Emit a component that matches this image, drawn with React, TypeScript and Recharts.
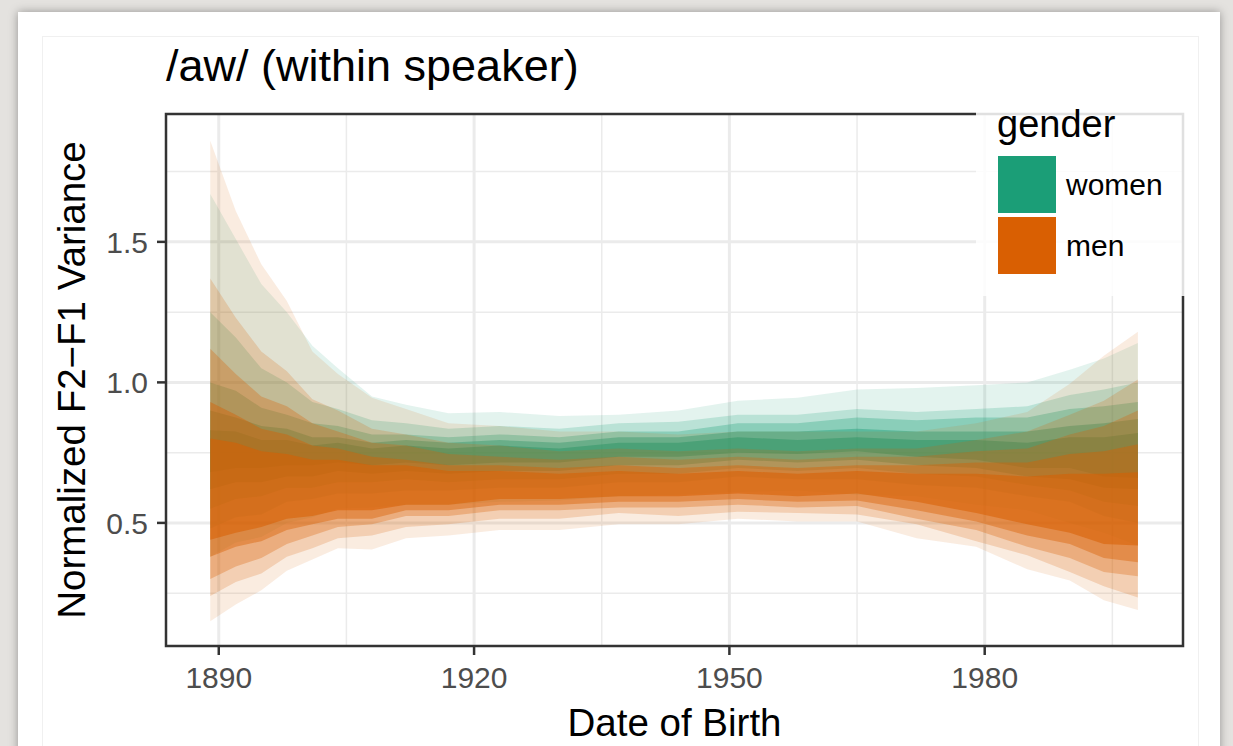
import React from "react";
import {
  Area,
  CartesianGrid,
  ComposedChart,
  ReferenceArea,
  XAxis,
  YAxis,
} from "recharts";

const FONT = "'Liberation Sans', Arial, Helvetica, sans-serif";
const WOMEN = "#1b9e77";
const MEN = "#d95f02";

const YEARS = [
  1889, 1892, 1895, 1898, 1901, 1904, 1908, 1912, 1917, 1923, 1930, 1937, 1944,
  1951, 1958, 1965, 1972, 1979, 1985, 1990, 1994, 1998,
];

const X_TICKS = [1890, 1920, 1950, 1980];
const X_MINOR = [1905, 1935, 1965, 1995];
const Y_TICKS = [0.5, 1.0, 1.5];
const Y_MINOR = [0.25, 0.75, 1.25, 1.75];

// women: outer band (1) to inner band (5)
const W1_HI = [1.67, 1.51, 1.35, 1.25, 1.13, 1.05, 0.95, 0.92, 0.89, 0.895, 0.88, 0.885, 0.9, 0.935, 0.945, 0.975, 0.98, 0.99, 1.0, 1.045, 1.085, 1.14];
const W1_LO = [0.38, 0.43, 0.45, 0.5, 0.52, 0.55, 0.555, 0.565, 0.565, 0.575, 0.58, 0.595, 0.6, 0.61, 0.615, 0.6, 0.595, 0.565, 0.545, 0.5, 0.465, 0.42];
const W2_HI = [1.25, 1.16, 1.05, 1.0, 0.93, 0.905, 0.865, 0.855, 0.835, 0.845, 0.835, 0.855, 0.86, 0.885, 0.885, 0.905, 0.895, 0.905, 0.915, 0.955, 0.975, 1.0];
const W2_LO = [0.48, 0.52, 0.53, 0.575, 0.585, 0.605, 0.605, 0.615, 0.615, 0.625, 0.625, 0.645, 0.645, 0.665, 0.655, 0.655, 0.635, 0.625, 0.595, 0.575, 0.525, 0.5];
const W3_HI = [1.0, 0.97, 0.91, 0.885, 0.855, 0.845, 0.815, 0.815, 0.805, 0.815, 0.805, 0.825, 0.825, 0.855, 0.855, 0.875, 0.865, 0.875, 0.875, 0.905, 0.915, 0.93];
const W3_LO = [0.55, 0.585, 0.595, 0.625, 0.625, 0.645, 0.645, 0.655, 0.645, 0.655, 0.655, 0.675, 0.675, 0.695, 0.685, 0.695, 0.675, 0.665, 0.635, 0.615, 0.575, 0.56];
const W4_HI = [0.9, 0.875, 0.845, 0.835, 0.805, 0.805, 0.785, 0.795, 0.785, 0.795, 0.785, 0.805, 0.805, 0.825, 0.825, 0.835, 0.825, 0.825, 0.825, 0.845, 0.855, 0.87];
const W4_LO = [0.62, 0.645, 0.645, 0.665, 0.665, 0.685, 0.675, 0.685, 0.675, 0.685, 0.685, 0.705, 0.705, 0.725, 0.715, 0.725, 0.705, 0.695, 0.665, 0.655, 0.625, 0.62];
const W5_HI = [0.83, 0.825, 0.795, 0.795, 0.775, 0.785, 0.765, 0.775, 0.765, 0.775, 0.765, 0.785, 0.785, 0.805, 0.795, 0.805, 0.795, 0.795, 0.785, 0.805, 0.805, 0.82];
const W5_LO = [0.68, 0.695, 0.695, 0.705, 0.705, 0.715, 0.705, 0.715, 0.705, 0.715, 0.715, 0.735, 0.735, 0.75, 0.745, 0.755, 0.735, 0.725, 0.695, 0.695, 0.665, 0.66];

// men: outer band (1) to inner band (5)
const M1_HI = [1.86, 1.61, 1.42, 1.29, 1.11, 1.03, 0.945, 0.905, 0.855, 0.845, 0.825, 0.825, 0.815, 0.825, 0.825, 0.825, 0.825, 0.855, 0.895, 0.995, 1.095, 1.18];
const M1_LO = [0.15, 0.21, 0.26, 0.33, 0.37, 0.41, 0.405, 0.445, 0.455, 0.475, 0.475, 0.495, 0.495, 0.515, 0.505, 0.505, 0.445, 0.415, 0.335, 0.295, 0.225, 0.19];
const M2_HI = [1.37, 1.23, 1.11, 1.04, 0.94, 0.9, 0.835, 0.815, 0.785, 0.775, 0.755, 0.765, 0.755, 0.765, 0.755, 0.765, 0.765, 0.795, 0.825, 0.885, 0.935, 1.01];
const M2_LO = [0.24, 0.29, 0.32, 0.38, 0.41, 0.445, 0.455, 0.485, 0.495, 0.515, 0.515, 0.535, 0.525, 0.54, 0.535, 0.53, 0.495, 0.435, 0.385, 0.325, 0.275, 0.235];
const M3_HI = [1.12, 1.03, 0.95, 0.915, 0.855, 0.825, 0.785, 0.775, 0.745, 0.735, 0.725, 0.735, 0.725, 0.735, 0.725, 0.735, 0.735, 0.755, 0.765, 0.815, 0.845, 0.9];
const M3_LO = [0.3, 0.345, 0.375, 0.425, 0.455, 0.485, 0.495, 0.525, 0.525, 0.545, 0.545, 0.555, 0.555, 0.565, 0.555, 0.56, 0.515, 0.475, 0.415, 0.375, 0.325, 0.31];
const M4_HI = [0.93, 0.885, 0.835, 0.815, 0.775, 0.765, 0.735, 0.725, 0.705, 0.705, 0.695, 0.705, 0.695, 0.705, 0.695, 0.705, 0.705, 0.715, 0.715, 0.745, 0.755, 0.78];
const M4_LO = [0.38, 0.415, 0.435, 0.475, 0.495, 0.515, 0.515, 0.545, 0.545, 0.565, 0.565, 0.575, 0.575, 0.585, 0.575, 0.58, 0.545, 0.505, 0.455, 0.425, 0.375, 0.36];
const M5_HI = [0.8, 0.785, 0.755, 0.745, 0.725, 0.725, 0.705, 0.705, 0.685, 0.685, 0.675, 0.685, 0.675, 0.685, 0.675, 0.685, 0.675, 0.675, 0.665, 0.675, 0.675, 0.68];
const M5_LO = [0.44, 0.465, 0.485, 0.515, 0.525, 0.545, 0.545, 0.565, 0.565, 0.585, 0.585, 0.595, 0.595, 0.605, 0.595, 0.605, 0.575, 0.535, 0.495, 0.465, 0.425, 0.42];

const WOMEN_BANDS = [
  [W1_LO, W1_HI],
  [W2_LO, W2_HI],
  [W3_LO, W3_HI],
  [W4_LO, W4_HI],
  [W5_LO, W5_HI],
];
const MEN_BANDS = [
  [M1_LO, M1_HI],
  [M2_LO, M2_HI],
  [M3_LO, M3_HI],
  [M4_LO, M4_HI],
  [M5_LO, M5_HI],
];
const BAND_OPACITY = [0.12, 0.2, 0.3, 0.42, 0.55];

const data = YEARS.map((year, i) => {
  const row: Record<string, number | number[]> = { year };
  WOMEN_BANDS.forEach(([lo, hi], b) => (row[`w${b}`] = [lo[i], hi[i]]));
  MEN_BANDS.forEach(([lo, hi], b) => (row[`m${b}`] = [lo[i], hi[i]]));
  return row;
});

const X_DOMAIN = [1883.8, 2003.3];
const Y_DOMAIN = [0.062, 1.955];

const tickStyle = { fill: "#4d4d4d", fontSize: 30, fontFamily: FONT };

export default function App() {
  return (
    <div
      style={{
        position: "fixed",
        left: 0,
        top: 0,
        width: 1233,
        height: 746,
        overflow: "hidden",
        background: "#e4e2df",
        fontFamily: FONT,
      }}
    >
      <div
        style={{
          position: "absolute",
          left: 18,
          top: 12,
          width: 1202,
          height: 780,
          background: "#fff",
          boxShadow: "0 0 9px rgba(0,0,0,0.35)",
        }}
      />
      <div
        style={{
          position: "absolute",
          left: 42,
          top: 36,
          width: 1155,
          height: 760,
          border: "1px solid #f0f0f0",
        }}
      />
      <ComposedChart
        width={1233}
        height={746}
        data={data}
        margin={{ top: 114, right: 50, bottom: 30, left: 106 }}
        style={{ position: "absolute", left: 0, top: 0 }}
      >
        <CartesianGrid
          stroke="#ebebeb"
          strokeWidth={1.5}
          verticalValues={X_MINOR}
          horizontalValues={Y_MINOR}
        />
        <CartesianGrid
          stroke="#ebebeb"
          strokeWidth={3}
          verticalValues={X_TICKS}
          horizontalValues={Y_TICKS}
        />
        <XAxis
          type="number"
          dataKey="year"
          domain={X_DOMAIN}
          ticks={X_TICKS}
          allowDataOverflow
          height={70}
          tick={tickStyle}
          tickSize={9}
          tickMargin={12}
          tickLine={{ stroke: "#333", strokeWidth: 2.5 }}
          axisLine={false}
          label={{
            content: ({ viewBox }: any) => (
              <text
                x={viewBox.x + viewBox.width / 2}
                y={736}
                textAnchor="middle"
                fontSize={38.5}
                fontFamily={FONT}
                fill="#000"
              >
                Date of Birth
              </text>
            ),
          }}
        />
        <YAxis
          type="number"
          domain={Y_DOMAIN}
          ticks={Y_TICKS}
          allowDataOverflow
          width={60}
          tick={tickStyle}
          tickSize={9}
          tickMargin={9}
          tickFormatter={(v: number) => v.toFixed(1)}
          tickLine={{ stroke: "#333", strokeWidth: 2.5 }}
          axisLine={false}
          label={{
            content: ({ viewBox }: any) => {
              const cy = viewBox.y + viewBox.height / 2;
              return (
                <text
                  x={85}
                  y={cy}
                  transform={`rotate(-90, 85, ${cy})`}
                  textAnchor="middle"
                  fontSize={38.5}
                  fontFamily={FONT}
                  fill="#000"
                >
                  Normalized F2−F1 Variance
                </text>
              );
            },
          }}
        />
        {WOMEN_BANDS.map((_, b) => (
          <Area
            key={`w${b}`}
            dataKey={`w${b}`}
            type="linear"
            stroke="none"
            fill={WOMEN}
            fillOpacity={BAND_OPACITY[b]}
            isAnimationActive={false}
          />
        ))}
        {MEN_BANDS.map((_, b) => (
          <Area
            key={`m${b}`}
            dataKey={`m${b}`}
            type="linear"
            stroke="none"
            fill={MEN}
            fillOpacity={BAND_OPACITY[b]}
            isAnimationActive={false}
          />
        ))}
        <ReferenceArea
          x1={X_DOMAIN[0]}
          x2={X_DOMAIN[1]}
          y1={Y_DOMAIN[0]}
          y2={Y_DOMAIN[1]}
          fill="none"
          stroke="#333"
          strokeWidth={2.5}
          ifOverflow="visible"
        />
      </ComposedChart>
      <svg
        width={1233}
        height={746}
        style={{ position: "absolute", left: 0, top: 0, pointerEvents: "none" }}
        fontFamily={FONT}
      >
        <text x={166} y={81} fontSize={45} fill="#000">
          /aw/ (within speaker)
        </text>
        <rect x={976} y={112} width={209} height={184} fill="#fff" fillOpacity={0.85} />
        <text x={997} y={137} fontSize={38} fill="#000">
          gender
        </text>
        <rect x={998} y={156} width={58} height={57} fill={WOMEN} />
        <rect x={998} y={217} width={58} height={57} fill={MEN} />
        <text x={1066} y={195} fontSize={30} fill="#000">
          women
        </text>
        <text x={1066} y={256} fontSize={30} fill="#000">
          men
        </text>
      </svg>
    </div>
  );
}
